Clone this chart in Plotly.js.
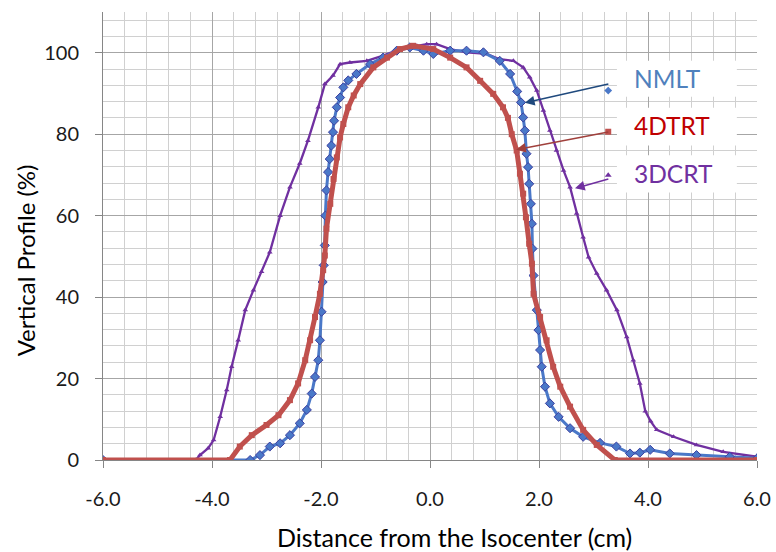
<!DOCTYPE html>
<html>
<head>
<meta charset="utf-8">
<script src="https://cdn.plot.ly/plotly-3.0.1.min.js"></script>
<style>html,body{margin:0;padding:0;background:#fff;}#chart{width:776px;height:552px;}</style>
</head>
<body>
<div id="chart"></div>
<script>
// ---- Data ----
const crt3dX = [-6, -4.3, -4.22, -4.07, -3.97, -3.85, -3.73, -3.64, -3.52, -3.39, -3.24, -3.09, -2.94, -2.75, -2.57, -2.39, -2.24, -2.05, -1.93, -1.78, -1.65, -1.47, -1.16, -0.86, -0.55, -0.24, -0.06, 0.12, 0.37, 0.67, 1.04, 1.28, 1.53, 1.71, 1.83, 1.96, 2.08, 2.2, 2.32, 2.45, 2.57, 2.69, 2.81, 2.91, 3.06, 3.24, 3.43, 3.61, 3.73, 3.85, 3.95, 4.05, 4.16, 4.47, 4.89, 5.38, 6];
const crt3dY = [0, 0, 1.2, 2.9, 4.9, 10.6, 17.2, 22.9, 29.4, 36.8, 41.7, 46.2, 51, 60, 67, 72.8, 78.4, 86.6, 92.3, 94.4, 97.2, 97.6, 98, 99.3, 100.9, 101.7, 102.1, 102.1, 100.9, 100.1, 99.7, 98.4, 98, 96.4, 94, 90.7, 85.8, 80.9, 76, 71.1, 67, 60.5, 54.7, 49.8, 45.8, 41.7, 36.8, 30.2, 24.5, 18.8, 12, 9.5, 7.4, 5.7, 3.7, 2, 0.8];

const nmltX = [-6, -3.3, -3.12, -2.94, -2.75, -2.57, -2.39, -2.26, -2.17, -2.11, -2.05, -2.02, -1.99, -1.97, -1.95, -1.93, -1.92, -1.9, -1.87, -1.84, -1.81, -1.78, -1.76, -1.71, -1.65, -1.59, -1.5, -1.35, -1.1, -0.86, -0.61, -0.37, -0.12, 0.06, 0.37, 0.67, 0.98, 1.28, 1.47, 1.6, 1.67, 1.71, 1.74, 1.77, 1.8, 1.82, 1.85, 1.87, 1.88, 1.9, 1.96, 1.99, 2.02, 2.05, 2.11, 2.2, 2.36, 2.57, 2.81, 3.12, 3.42, 3.67, 3.85, 4.04, 4.4, 4.89, 5.5, 6];
const nmltY = [0, 0, 1.2, 3.3, 4.1, 6.1, 9, 12.3, 16.3, 20.4, 24.5, 29.4, 36.4, 43.7, 47.8, 52.7, 60, 66.2, 70.7, 73.9, 77.2, 80.5, 83.3, 86.6, 89, 91.5, 93.2, 94.8, 97.2, 98.8, 100.5, 101.3, 100.5, 99.7, 100.5, 100.5, 100.1, 98, 94.8, 90.5, 87.8, 84.1, 80.9, 75.2, 71.9, 67.8, 62.9, 58, 51.9, 45.3, 36.8, 31.9, 27, 22.9, 18, 13.9, 10.6, 7.8, 5.7, 4.2, 3.3, 1.6, 1.8, 2.5, 1.6, 1.2, 0.8, 0.4];

const dtrt4X = [-6, -3.67, -3.49, -3.27, -3.0, -2.78, -2.57, -2.42, -2.29, -2.2, -2.11, -2.02, -1.96, -1.93, -1.9, -1.83, -1.77, -1.71, -1.65, -1.59, -1.5, -1.4, -1.28, -1.04, -0.79, -0.55, -0.31, 0.06, 0.37, 0.67, 0.92, 1.16, 1.34, 1.43, 1.5, 1.59, 1.65, 1.71, 1.76, 1.82, 1.87, 1.9, 2.02, 2.14, 2.26, 2.39, 2.57, 2.81, 3.06, 3.39, 6];
const dtrt4Y = [0, 0, 3.3, 6.1, 8.6, 11, 14.7, 18.8, 24.5, 29.4, 35.1, 40.8, 46.6, 50.2, 56.8, 62.9, 69, 74.3, 79.2, 82.5, 86.6, 89.5, 92.3, 96.4, 98.8, 100.9, 101.7, 100.9, 98.8, 96.4, 93.1, 89.9, 86.6, 84, 80, 76, 70.3, 65.4, 59.6, 53.1, 48.2, 40.8, 35.1, 29.4, 22.9, 18, 13.1, 7.4, 3.7, 0, 0];

// stray single points next to the labels
const labelMarkX = [3.27, 3.27, 3.27];
const labelMarkY = [90.7, 80.6, 69.9];

const seriesNames = ['NMLT', '4DTRT', '3DCRT'];
const seriesColors = ['#4a78c8', '#c0504d', '#7030a0'];
const labelColors = ['#4f81bd', '#c00000', '#7030a0'];
const arrowColors = ['#1f497d', '#a0403c', '#7030a0'];

const xTickVals = [-6, -4, -2, 0, 2, 4, 6];
const xTickText = ['-6.0', '-4.0', '-2.0', '0.0', '2.0', '4.0', '6.0'];
const yTickVals = [0, 20, 40, 60, 80, 100];

const xTitle = 'Distance from the Isocenter (cm)';
const yTitle = 'Vertical Profile (%)';

// label / box / arrow positions (data units)
const labelLeftX = 3.71;
const labelY = [93.6, 82.1, 70.3];
const boxX = [3.43, 5.63];
const boxY = [[89.2, 98.0], [77.2, 86.5], [65.7, 74.8]];
const arrowTail = [[3.30, 92.4], [3.30, 80.6], [3.30, 69.1]];
const arrowHead = [[1.74, 87.7], [1.58, 76.2], [2.66, 66.7]];

const traces = [
  {x: crt3dX, y: crt3dY, mode: 'lines+markers', name: seriesNames[2],
   line: {color: seriesColors[2], width: 2.3},
   marker: {symbol: 'triangle-up', size: 5, color: seriesColors[2]}},
  {x: nmltX, y: nmltY, mode: 'lines+markers', name: seriesNames[0],
   line: {color: seriesColors[0], width: 3},
   marker: {symbol: 'diamond', size: 7, color: seriesColors[0], line: {color: '#3b3fa0', width: 1}}},
  {x: dtrt4X, y: dtrt4Y, mode: 'lines+markers', name: seriesNames[1],
   line: {color: seriesColors[1], width: 5},
   marker: {symbol: 'square', size: 6, color: seriesColors[1]}},
  {x: labelMarkX, y: labelMarkY, mode: 'markers', hoverinfo: 'skip',
   marker: {symbol: ['diamond', 'square', 'triangle-up'], size: 6,
            color: [seriesColors[0], seriesColors[1], seriesColors[2]]}}
];

const shapes = [];
const annotations = [];
for (let i = 0; i < 3; i++) {
  shapes.push({type: 'rect', xref: 'x', yref: 'y', layer: 'above',
    x0: boxX[0], x1: boxX[1], y0: boxY[i][0], y1: boxY[i][1],
    fillcolor: '#ffffff', line: {width: 0}});
  annotations.push({
    x: labelLeftX, y: labelY[i], xref: 'x', yref: 'y', xanchor: 'left', yanchor: 'middle',
    text: seriesNames[i], showarrow: false,
    font: {family: 'Lato, sans-serif', size: 24.5, color: labelColors[i]}
  });
  annotations.push({
    x: arrowHead[i][0], y: arrowHead[i][1], xref: 'x', yref: 'y',
    ax: arrowTail[i][0], ay: arrowTail[i][1], axref: 'x', ayref: 'y',
    text: '', showarrow: true, arrowhead: 2, arrowsize: 1.3, arrowwidth: 1.5,
    arrowcolor: arrowColors[i]
  });
}
annotations.push({
  x: 0.538, y: -0.172, xref: 'paper', yref: 'paper', xanchor: 'center', yanchor: 'middle',
  text: xTitle, showarrow: false, font: {family: 'Lato, sans-serif', size: 25, color: '#000'}
});
annotations.push({
  x: -0.119, y: 0.446, xref: 'paper', yref: 'paper', xanchor: 'center', yanchor: 'middle',
  text: yTitle, textangle: -90, showarrow: false, font: {family: 'Lato, sans-serif', size: 24, color: '#000'}
});

const layout = {
  width: 776, height: 552,
  margin: {l: 103, r: 19, t: 12, b: 92},
  paper_bgcolor: '#ffffff', plot_bgcolor: '#ffffff',
  showlegend: false,
  font: {family: 'Lato, sans-serif', color: '#1a1a1a'},
  xaxis: {
    range: [-6, 6], tickvals: xTickVals, ticktext: xTickText,
    showgrid: true, gridcolor: '#a6a6a6', gridwidth: 1,
    minor: {dtick: 0.4, tick0: -6, showgrid: true, gridcolor: '#d0d0d0', gridwidth: 1, ticks: ''},
    zeroline: false, showline: true, linecolor: '#868686', linewidth: 1,
    ticks: 'outside', ticklen: 7, tickcolor: '#868686', ticklabelstandoff: 14,
    tickfont: {size: 20, color: '#1a1a1a'}
  },
  yaxis: {
    range: [0, 110], tickvals: yTickVals,
    showgrid: true, gridcolor: '#a6a6a6', gridwidth: 1,
    minor: {dtick: 4, tick0: 0, showgrid: true, gridcolor: '#d0d0d0', gridwidth: 1, ticks: ''},
    zeroline: false, showline: true, linecolor: '#868686', linewidth: 1,
    ticks: 'outside', ticklen: 7, tickcolor: '#868686', ticklabelstandoff: 12,
    tickfont: {size: 20, color: '#1a1a1a'}
  },
  shapes: shapes,
  annotations: annotations
};

Plotly.newPlot('chart', traces, layout, {displayModeBar: false, staticPlot: true});
</script>
</body>
</html>
